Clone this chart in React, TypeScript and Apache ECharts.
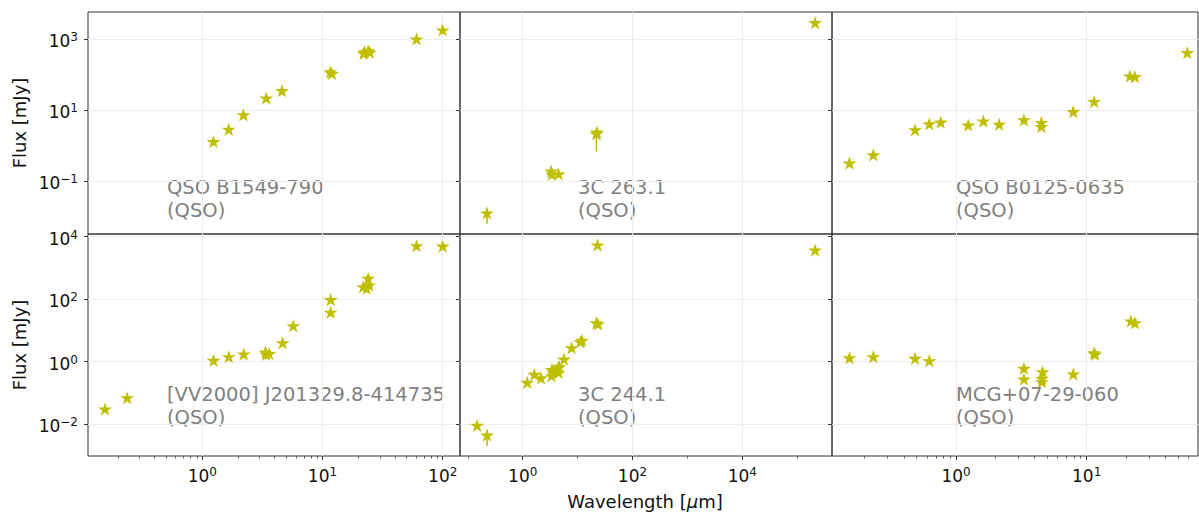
import React, { useEffect, useRef } from 'react';
import * as echarts from 'echarts';

// ---- data: [wavelength (µm), flux (mJy)] ----
const QSO_B1549_790: number[][] = [
  [1.24, 1.3], [1.66, 2.9], [2.2, 7.4], [3.4, 22], [4.6, 35.6], [11.6, 120], [12.0, 108],
  [22.0, 400], [22.4, 440], [24.0, 470], [24.8, 430], [60.6, 1020], [100, 1830],
];
const C3_263_1: number[][] = [
  [0.224, 0.0126], [3.3, 0.19], [3.4, 0.155], [4.5, 0.16], [22.0, 2.15], [22.6, 2.4], [212000, 2940],
];
const QSO_B0125_0635: number[][] = [
  [0.153, 0.32], [0.233, 0.55], [0.486, 2.8], [0.625, 4.1], [0.764, 4.6], [1.24, 3.8], [1.62, 4.9],
  [2.14, 4.0], [3.31, 5.3], [4.5, 4.5], [4.5, 3.45], [7.9, 9.1], [11.4, 17.5], [21.4, 92], [23.4, 88],
  [58.9, 420],
];
const VV2000_J201329: number[][] = [
  [0.155, 0.030], [0.237, 0.069], [1.24, 1.09], [1.66, 1.43], [2.21, 1.74], [3.35, 2.0], [3.4, 1.7],
  [3.6, 1.8], [4.66, 4.0], [5.71, 14.0], [11.7, 96], [11.7, 38], [21.8, 250], [23.3, 222], [24.0, 464],
  [24.4, 283], [60.6, 5150], [100, 5000],
];
const C3_244_1: number[][] = [
  [0.148, 0.009], [0.224, 0.0044], [1.21, 0.215], [1.63, 0.39], [2.15, 0.30], [3.35, 0.35], [3.4, 0.55],
  [3.6, 0.45], [4.4, 0.62], [4.5, 0.45], [4.6, 0.7], [5.64, 1.2], [7.78, 2.77], [11.2, 4.3], [12.0, 4.8],
  [22.0, 17.5], [23.5, 16], [23.1, 5420], [212000, 3750],
];
const MCG_07_29_060: number[][] = [
  [0.153, 1.32], [0.233, 1.43], [0.486, 1.27], [0.625, 1.06], [3.31, 0.605], [3.31, 0.275], [4.6, 0.47],
  [4.55, 0.29], [4.55, 0.225], [7.9, 0.40], [11.4, 1.9], [11.6, 1.7], [21.8, 19.9], [23.4, 17.5],
];
// error bars: [wavelength, low, high]
const ERR_3C_263_1: number[][] = [[0.224, 0.0063, 0.016], [22.0, 0.68, 2.15]];
const ERR_3C_244_1: number[][] = [[0.224, 0.002, 0.0064]];
const EMPTY_ERR: number[][] = [];

const NAMES = ['QSO B1549-790', '3C 263.1', 'QSO B0125-0635', '[VV2000] J201329.8-414735', '3C 244.1', 'MCG+07-29-060'];
const TYPES = ['(QSO)', '(QSO)', '(QSO)', '(QSO)', '(QSO)', '(QSO)'];

// axis ticks
const Y_TICKS_TOP = [0.1, 10, 1000];
const Y_TICKS_BOTTOM = [0.01, 1, 100, 10000];
const X_TICKS_COL = [[1, 10, 100], [1, 100, 10000], [1, 10]];
const X_MINOR_COL = [
  [0.2, 0.3, 0.4, 0.5, 0.6, 0.7, 0.8, 0.9, 2, 3, 4, 5, 6, 7, 8, 9, 20, 30, 40, 50, 60, 70, 80, 90],
  [0.1, 10, 1000, 100000],
  [0.2, 0.3, 0.4, 0.5, 0.6, 0.7, 0.8, 0.9, 2, 3, 4, 5, 6, 7, 8, 9, 20, 30, 40, 50, 60],
];
// axis ranges (log10 of extent)
const X_RANGE_COL = [[-0.951, 2.144], [-1.142, 5.634], [-0.949, 1.852]];
const Y_RANGE_ROW = [[-2.493, 3.769], [-3.026, 4.087]];

const PANELS = [QSO_B1549_790, C3_263_1, QSO_B0125_0635, VV2000_J201329, C3_244_1, MCG_07_29_060];
const ERRS = [EMPTY_ERR, ERR_3C_263_1, EMPTY_ERR, EMPTY_ERR, ERR_3C_244_1, EMPTY_ERR];

const FONT = 'DejaVu Sans';
const COLOR = '#bfbf00';
const COL_LEFT = [88, 460, 832];
const COL_WIDTH = [372, 372, 366];
const ROW_TOP = [12, 234];
const ROW_HEIGHT = [222, 222];
const LABEL_X = [167, 578, 956];
const LABEL_Y = [176.5, 383.3];
const LABEL_SIZE = 19.5;
const LABEL_GAP = 22.8;

function starPath(): string {
  const pts: string[] = [];
  for (let i = 0; i < 10; i++) {
    const r = i % 2 === 0 ? 1 : 0.382;
    const a = Math.PI / 2 + (i * Math.PI) / 5;
    pts.push((r * Math.cos(a)).toFixed(4) + ',' + (-r * Math.sin(a)).toFixed(4));
  }
  return 'path://M' + pts.join('L') + 'Z';
}

function powLabel(v: number): string {
  const e = Math.round(Math.log10(v));
  const s = e < 0 ? '\u2212' + -e : String(e);
  return '{b|10}{e|' + s + '}';
}

const labelRich = {
  b: { fontSize: 17, lineHeight: 20, fontFamily: FONT, color: '#111' },
  e: { fontSize: 12, lineHeight: 10, fontFamily: FONT, color: '#111', verticalAlign: 'top' },
};

function buildOption() {
  const grid: any[] = [];
  const xAxis: any[] = [];
  const yAxis: any[] = [];
  const series: any[] = [];
  const graphic: any[] = [];
  const star = starPath();

  for (let p = 0; p < 6; p++) {
    const row = Math.floor(p / 3);
    const col = p % 3;
    grid.push({
      left: COL_LEFT[col], top: ROW_TOP[row], width: COL_WIDTH[col], height: ROW_HEIGHT[row],
      show: true, borderColor: '#333', borderWidth: 1, backgroundColor: 'transparent', containLabel: false,
    });
    const xr = X_RANGE_COL[col];
    xAxis.push({
      type: 'log', logBase: 10, gridIndex: p, position: 'bottom',
      min: Math.pow(10, xr[0]), max: Math.pow(10, xr[1]),
      axisLine: { show: false },
      axisTick: { show: row === 1, customValues: X_TICKS_COL[col], length: 4, lineStyle: { color: '#333' } },
      axisLabel: {
        show: row === 1, customValues: X_TICKS_COL[col], formatter: powLabel, rich: labelRich, margin: 10,
      },
      splitLine: { show: true, lineStyle: { color: '#ececec', width: 1 } },
    });
    const yr = Y_RANGE_ROW[row];
    const yt = row === 0 ? Y_TICKS_TOP : Y_TICKS_BOTTOM;
    yAxis.push({
      type: 'log', logBase: 10, gridIndex: p, position: 'left',
      min: Math.pow(10, yr[0]), max: Math.pow(10, yr[1]),
      axisLine: { show: false },
      axisTick: { show: true, customValues: yt, length: 4, lineStyle: { color: '#333' } },
      axisLabel: {
        show: col === 0, customValues: yt, formatter: powLabel, rich: labelRich, margin: 10, padding: [4, 0, 0, 0],
      },
      splitLine: { show: true, lineStyle: { color: '#ececec', width: 1 } },
    });
    series.push({
      type: 'custom', xAxisIndex: p, yAxisIndex: p, data: ERRS[p], z: 2,
      encode: { x: 0, y: [1, 2] },
      renderItem: (params: any, api: any) => {
        const a = api.coord([api.value(0), api.value(1)]);
        const b = api.coord([api.value(0), api.value(2)]);
        return {
          type: 'line',
          shape: { x1: a[0], y1: a[1], x2: b[0], y2: b[1] },
          style: { stroke: COLOR, lineWidth: 1.6 },
        };
      },
    });
    series.push({
      type: 'scatter', xAxisIndex: p, yAxisIndex: p, data: PANELS[p], z: 3,
      symbol: star, symbolSize: [14, 13.3],
      itemStyle: { color: COLOR, opacity: 1 },
      emphasis: { disabled: true },
    });
    const lines = [NAMES[p], TYPES[p]];
    lines.forEach((t, i) => {
      graphic.push({
        type: 'text', x: LABEL_X[col], y: LABEL_Y[row] + i * LABEL_GAP, silent: true,
        style: {
          text: t, fontSize: LABEL_SIZE, lineHeight: LABEL_GAP, fontFamily: FONT,
          fill: '#808080', align: 'left', verticalAlign: 'top',
        },
      });
    });
  }
  // minor ticks on bottom row
  for (let col = 0; col < 3; col++) {
    const p = 3 + col;
    const xr = X_RANGE_COL[col];
    xAxis.push({
      type: 'log', logBase: 10, gridIndex: p, position: 'bottom', offset: 0,
      min: Math.pow(10, xr[0]), max: Math.pow(10, xr[1]),
      axisLine: { show: false },
      axisTick: { show: true, customValues: X_MINOR_COL[col], length: 2.5, lineStyle: { color: '#555' } },
      axisLabel: { show: false },
      splitLine: { show: false },
    });
  }
  graphic.push(
    {
      type: 'text', x: 19.5, y: 123, rotation: Math.PI / 2, silent: true,
      style: { text: 'Flux [mJy]', fontSize: 18, fontFamily: FONT, fill: '#111', align: 'center', verticalAlign: 'middle' },
    },
    {
      type: 'text', x: 19.5, y: 345, rotation: Math.PI / 2, silent: true,
      style: { text: 'Flux [mJy]', fontSize: 18, fontFamily: FONT, fill: '#111', align: 'center', verticalAlign: 'middle' },
    },
    {
      type: 'text', x: 645, y: 501, silent: true,
      style: {
        text: '{n|Wavelength [}{i|\u03bc}{n|m]}', fontSize: 18, fontFamily: FONT, fill: '#111',
        align: 'center', verticalAlign: 'middle',
        rich: {
          n: { fontSize: 18, fontFamily: FONT, color: '#111' },
          i: { fontSize: 18, fontFamily: FONT, color: '#111', fontStyle: 'italic' },
        },
      },
    },
  );
  return {
    animation: false,
    backgroundColor: '#fff',
    textStyle: { fontFamily: FONT },
    grid, xAxis, yAxis, series, graphic,
  };
}

export default function App() {
  const ref = useRef<HTMLDivElement>(null);
  useEffect(() => {
    const chart = echarts.init(ref.current!, null, { renderer: 'svg' });
    chart.setOption(buildOption() as any);
    return () => chart.dispose();
  }, []);
  return (
    <div
      ref={ref}
      style={{ position: 'fixed', left: 0, top: 0, width: 1199, height: 516, background: '#fff' }}
    />
  );
}
